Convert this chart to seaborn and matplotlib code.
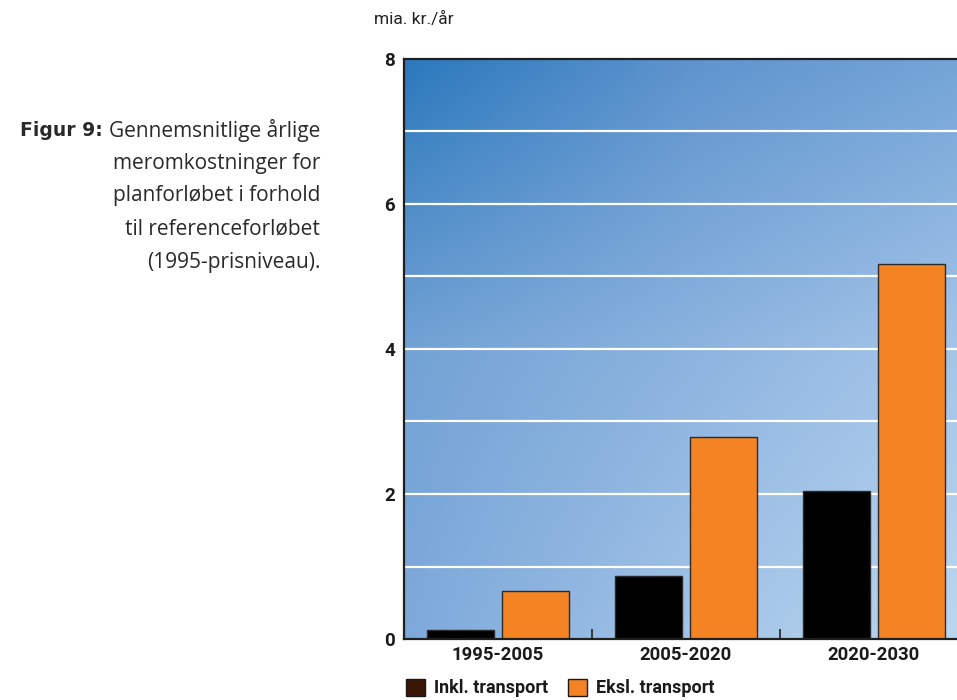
import numpy as np
import pandas as pd
import matplotlib
matplotlib.use("Agg")
import matplotlib.pyplot as plt
from matplotlib import font_manager
from matplotlib.patches import Patch
import seaborn as sns

# ---- data ----
periods = ["1995-2005", "2005-2020", "2020-2030"]
series = ["Inkl. transport", "Eksl. transport"]
inkl_values = [0.12, 0.87, 2.04]
eksl_values = [0.66, 2.79, 5.17]
y_ticks = [0, 2, 4, 6, 8]
y_label = "mia. kr./år"
caption_bold = "Figur 9:"
caption_lines = ["Gennemsnitlige årlige", "meromkostninger for",
                 "planforløbet i forhold", "til referenceforløbet",
                 "(1995-prisniveau)."]

df = pd.DataFrame({
    "period": periods * 2,
    "series": [series[0]] * 3 + [series[1]] * 3,
    "value": inkl_values + eksl_values,
})

sns.set_theme(style="white")
available = {f.name for f in font_manager.fontManager.ttflist}
narrow = "Roboto" if "Roboto" in available else "DejaVu Sans"
body = "Open Sans" if "Open Sans" in available else "DejaVu Sans"
plt.rcParams["font.family"] = [narrow, "DejaVu Sans"]

W, H = 957, 700
fig = plt.figure(figsize=(W / 100, H / 100), dpi=100)
ax = fig.add_axes([404 / W, 1 - 639 / H, 564 / W, 580 / H])

# gradient background (3x3 colour grid, bilinear)
grid = [["#2a78bd", "#5d93cd", "#74a5d7"],
        ["#72a2d4", "#8cb3df", "#a6c6e9"],
        ["#7ea9db", "#a2c3e7", "#bcd8f0"]]
g = np.array([[matplotlib.colors.to_rgb(c) for c in row] for row in grid])
n = 300
uu = np.linspace(0, 2, n)
vv = np.linspace(0, 2, n)
img = np.zeros((n, n, 3))
for i, v in enumerate(vv):
    i0 = min(int(v), 1); fv = v - i0
    for j, u in enumerate(uu):
        j0 = min(int(u), 1); fu = u - j0
        c = (g[i0, j0] * (1 - fu) * (1 - fv) + g[i0, j0 + 1] * fu * (1 - fv)
             + g[i0 + 1, j0] * (1 - fu) * fv + g[i0 + 1, j0 + 1] * fu * fv)
        img[i, j] = c
ax.imshow(img, extent=(0, 1, 0, 1), transform=ax.transAxes, aspect="auto",
          zorder=0, interpolation="bilinear")

sns.barplot(data=df, x="period", y="value", hue="series", order=periods,
            hue_order=series, palette=["#000000", "#f48423"], saturation=1,
            width=0.8, gap=0.1, edgecolor="#2a2a2a", linewidth=1.0, ax=ax,
            zorder=3, legend=False)

ax.set_xlim(-0.5, 2.5)
ax.set_ylim(0, 8)
ax.set_yticks(y_ticks)
ax.grid(False)
for yv in range(1, 8):
    ax.axhline(yv, color="white", lw=1.6, zorder=1)
ax.set_xticks([0.5, 1.5], minor=True)
ax.tick_params(axis="x", which="minor", direction="in", length=7.5, width=1.2,
               color="#222222", bottom=True)
ax.tick_params(axis="x", which="major", length=0, pad=5, labelsize=13.3)
ax.tick_params(axis="y", which="both", length=0, pad=6.5, labelsize=13.5)
for lab in ax.get_xticklabels() + ax.get_yticklabels():
    lab.set_fontweight("bold")
    lab.set_color("#1a1a1a")
ax.set_xlabel("")
ax.set_ylabel("")
for s in ax.spines.values():
    s.set_visible(True)
    s.set_color("#1f1f1f")
    s.set_linewidth(1.6)
    s.set_zorder(5)

fig.text(374 / W, 1 - 19 / H, y_label, ha="left", va="center", fontsize=12.5,
         color="#222222")

# legends
leg_font = {"family": [narrow, "DejaVu Sans"], "weight": "bold", "size": 13}
colors_leg = ["#3a1606", "#f48423"]
for k, (name, xpx) in enumerate(zip(series, [402, 564])):
    h = Patch(facecolor=colors_leg[k], edgecolor="#1a1a1a", linewidth=1.0)
    lg = fig.legend([h], [name], loc="upper left",
                    bbox_to_anchor=(xpx / W, 1 - 675 / H), frameon=False,
                    prop=leg_font, handlelength=1.1, handleheight=1.1,
                    handletextpad=0.45, borderaxespad=0, borderpad=0.2)
    for t in lg.get_texts():
        t.set_color("#1a1a1a")

# caption
xr = 320 / W
ys = [131, 163, 196, 229, 262]
fig.canvas.draw()
renderer = fig.canvas.get_renderer()
for k, (line, ypx) in enumerate(zip(caption_lines, ys)):
    t = fig.text(xr, 1 - ypx / H, line, ha="right", va="center", fontsize=15,
                 family=[body, "DejaVu Sans"], color="#2a2a2a")
    if k == 0:
        bb = t.get_window_extent(renderer=renderer)
        fig.text((bb.x0 - 6) / W, 1 - ypx / H, caption_bold, ha="right",
                 va="center", fontsize=13.5, fontweight="bold",
                 family=["DejaVu Sans"], color="#2a2a2a")

fig.savefig("out.png", dpi=100)
